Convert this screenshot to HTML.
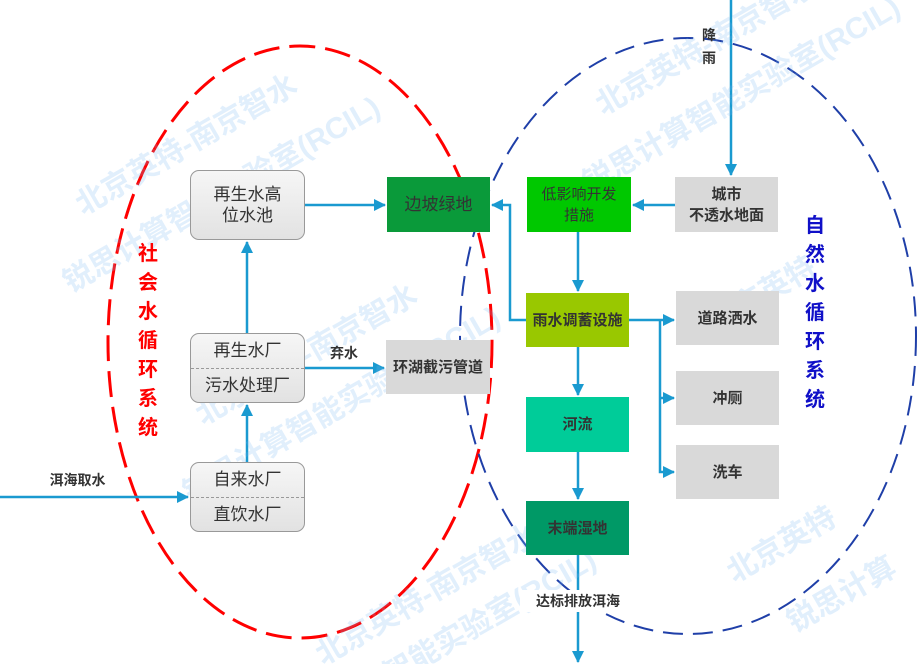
<!DOCTYPE html>
<html style="overflow:hidden;width:921px;height:664px"><head><meta charset="utf-8"><style>
body{margin:0;width:921px;height:664px;background:#fff;position:relative;overflow:hidden;font-family:"Liberation Sans","Noto Sans CJK SC",sans-serif;}
.b{position:absolute;display:flex;align-items:center;justify-content:center;text-align:center;font-size:15px;color:#333;line-height:21px;box-sizing:border-box}
.r{border:1px solid #999;border-radius:9px;background:linear-gradient(#f6f6f6,#e2e2e2);font-size:17px;flex-direction:column}
.g{background:#d9d9d9}
.wm{position:absolute;color:rgba(120,180,240,0.22);font-weight:bold;font-size:30px;transform:rotate(-30deg);white-space:nowrap}
.vt{position:absolute;font-weight:bold;font-size:20px;line-height:29px;width:24px;text-align:center}
</style></head><body>
<svg width="921" height="664" style="position:absolute;left:0;top:0">
<defs><marker id="m" markerWidth="12" markerHeight="12" refX="11" refY="6" orient="auto" markerUnits="userSpaceOnUse"><path d="M0,0L12,6L0,12z" fill="#1a9ad0"/></marker></defs>
<ellipse cx="300" cy="342" rx="192" ry="296" fill="none" stroke="#f00" stroke-width="3" stroke-dasharray="26,10"/>
<ellipse cx="688" cy="336" rx="228" ry="298" fill="none" stroke="#1f3fa8" stroke-width="2" stroke-dasharray="20,10"/>
<g stroke="#1a9ad0" stroke-width="2.5" fill="none">
<path d="M305,205H385" marker-end="url(#m)"/>
<path d="M247,333V242" marker-end="url(#m)"/>
<path d="M247,462V405" marker-end="url(#m)"/>
<path d="M0,497H188" marker-end="url(#m)"/>
<path d="M305,368H384" marker-end="url(#m)"/>
<path d="M526,320H510V205H492" marker-end="url(#m)"/>
<path d="M675,205H633" marker-end="url(#m)"/>
<path d="M731,0V175" marker-end="url(#m)"/>
<path d="M578,232V291" marker-end="url(#m)"/>
<path d="M629,320H674" marker-end="url(#m)"/>
<path d="M660,320V472H674" marker-end="url(#m)"/>
<path d="M660,398H674" marker-end="url(#m)"/>
<path d="M578,347V395" marker-end="url(#m)"/>
<path d="M578,452V499" marker-end="url(#m)"/>
<path d="M578,555V590M578,612V662" marker-end="url(#m)"/>
</g>
</svg>
<div class="wm" style="left:60px;top:120px">北京英特-南京智水</div>
<div class="wm" style="left:40px;top:170px">锐思计算智能实验室(RCIL)</div>
<div class="wm" style="left:180px;top:330px">北京英特-南京智水</div>
<div class="wm" style="left:160px;top:380px">锐思计算智能实验室(RCIL)</div>
<div class="wm" style="left:580px;top:20px">北京英特-南京智水</div>
<div class="wm" style="left:560px;top:70px">锐思计算智能实验室(RCIL)</div>
<div class="wm" style="left:300px;top:570px">北京英特-南京智水</div>
<div class="wm" style="left:340px;top:600px">算智能实验室(RCIL)</div>
<div class="wm" style="left:700px;top:270px">北京英特</div>
<div class="wm" style="left:720px;top:520px">北京英特</div>
<div class="wm" style="left:780px;top:570px">锐思计算</div>
<div class="b r" style="left:190px;top:170px;width:115px;height:70px">再生水高<br>位水池</div>
<div class="b r" style="left:190px;top:333px;width:115px;height:70px;padding:0"><div style="height:35px;line-height:35px;width:100%;border-bottom:1px dashed #999">再生水厂</div><div style="height:34px;line-height:34px">污水处理厂</div></div>
<div class="b r" style="left:190px;top:462px;width:115px;height:70px;padding:0"><div style="height:35px;line-height:35px;width:100%;border-bottom:1px dashed #999">自来水厂</div><div style="height:34px;line-height:34px">直饮水厂</div></div>
<div class="b" style="left:387px;top:177px;width:103px;height:55px;background:#0a9a3a;font-size:17px">边坡绿地</div>
<div class="b g" style="left:386px;top:340px;width:104px;height:54px;font-weight:bold">环湖截污管道</div>
<div class="b" style="left:527px;top:177px;width:104px;height:55px;background:#00c800">低影响开发<br>措施</div>
<div class="b g" style="left:675px;top:177px;width:103px;height:55px;font-weight:bold">城市<br>不透水地面</div>
<div class="b" style="left:526px;top:293px;width:103px;height:54px;background:#99c800;font-weight:bold">雨水调蓄设施</div>
<div class="b g" style="left:676px;top:291px;width:103px;height:54px;font-weight:bold">道路洒水</div>
<div class="b g" style="left:676px;top:371px;width:103px;height:54px;font-weight:bold">冲厕</div>
<div class="b g" style="left:676px;top:445px;width:103px;height:54px;font-weight:bold">洗车</div>
<div class="b" style="left:526px;top:397px;width:103px;height:55px;background:#00cc99;font-weight:bold">河流</div>
<div class="b" style="left:526px;top:501px;width:103px;height:54px;background:#009966;font-weight:bold">末端湿地</div>
<div class="b" style="left:520px;top:590px;width:116px;height:22px;font-weight:bold;font-size:14px;background:#fff">达标排放洱海</div>
<div class="b" style="left:40px;top:470px;width:75px;height:20px;font-weight:bold;font-size:14px">洱海取水</div>
<div class="b" style="left:322px;top:343px;width:44px;height:20px;font-weight:bold;font-size:14px">弃水</div>
<div class="b" style="left:698px;top:24px;width:22px;height:46px;font-weight:bold;font-size:14px;line-height:23px">降<br>雨</div>
<div class="vt" style="left:136px;top:240px;color:#f00">社<br>会<br>水<br>循<br>环<br>系<br>统</div>
<div class="vt" style="left:803px;top:212px;color:#1010c8">自<br>然<br>水<br>循<br>环<br>系<br>统</div>
</body></html>
